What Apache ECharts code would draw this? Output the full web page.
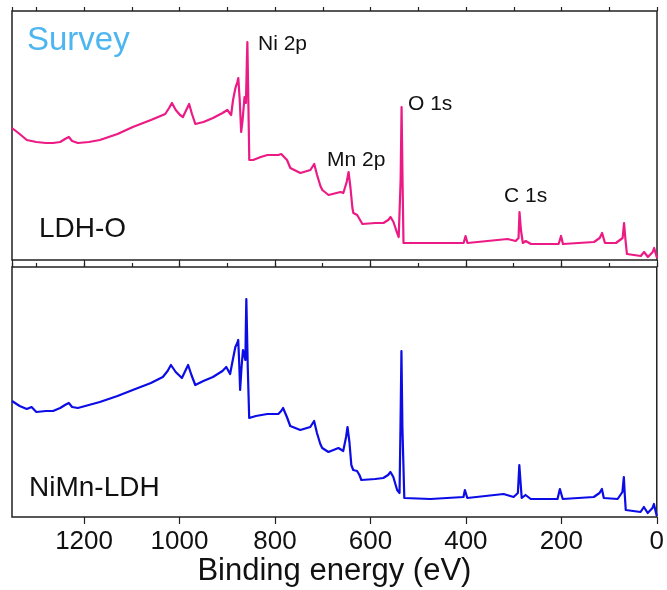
<!DOCTYPE html>
<html>
<head>
<meta charset="utf-8">
<title>XPS survey</title>
<script src="https://cdn.jsdelivr.net/npm/echarts@6.0.0/dist/echarts.min.js"></script>
<style>
  html, body { margin: 0; padding: 0; background: #fff; }
  #chart { width: 667px; height: 590px; }
</style>
</head>
<body>
<div id="chart"></div>
<script>
// binding energy (eV) and intensity (a.u.)
var ldhoEnergy = [1351, 1335, 1320, 1300, 1280, 1265, 1250, 1240, 1232, 1225, 1213, 1190, 1167, 1130, 1098, 1060, 1030, 1022, 1016, 1008, 999, 993, 986, 980, 974, 967, 950, 930, 910, 900, 892, 888, 883, 879, 877, 874, 871, 868, 864, 861, 859, 858, 856, 854, 846, 830, 816, 793, 787, 783, 775, 768, 747, 726, 722, 718, 712, 705, 701, 688, 663, 657, 650, 646, 642, 638, 636, 628, 622, 617, 590, 573, 563, 558, 552, 545, 541, 537, 535, 533, 531, 474, 405, 401, 397, 313, 296, 290, 288, 285, 281, 275, 271, 264, 206, 201, 197, 132, 120, 115, 109, 86, 72, 69, 66, 63, 34, 27, 19, 9, 6, 0];
var ldhoCounts = [132, 126, 120, 118, 117, 117, 118, 121, 123, 119, 117, 118, 120, 126, 133, 140, 146, 152, 157, 150, 145, 143, 150, 156, 146, 136, 138, 142, 147, 150, 145, 160, 172, 178, 182, 160, 128, 140, 163, 157, 200, 218, 160, 100, 100, 103, 105, 105, 106, 108, 100, 92, 87, 90, 92, 96, 85, 74, 70, 65, 68, 67, 78, 88, 72, 52, 47, 45, 40, 36, 37, 37, 40, 43, 38, 28, 23, 80, 153, 80, 17, 17, 17, 24, 17, 21, 19, 22, 48, 30, 17, 19, 20, 16, 16, 24, 16, 18, 22, 27, 17, 17, 22, 37, 20, 6, 4, 8, 3, 8, 12, 2];

var nimnEnergy = [1351, 1335, 1320, 1310, 1300, 1280, 1265, 1250, 1240, 1232, 1225, 1213, 1190, 1167, 1130, 1098, 1060, 1035, 1025, 1018, 1008, 995, 988, 982, 975, 967, 950, 930, 910, 902, 894, 888, 883, 879, 877, 875, 873, 870, 867, 862, 861, 860, 857, 854, 840, 816, 793, 787, 783, 775, 768, 747, 726, 722, 718, 712, 705, 701, 688, 667, 657, 651, 648, 644, 640, 636, 628, 623, 619, 590, 573, 563, 558, 552, 544, 539, 537, 535, 533, 529, 474, 405, 402, 397, 321, 300, 291, 288, 285, 283, 275, 271, 264, 208, 203, 197, 132, 120, 115, 111, 82, 72, 69, 67, 65, 34, 27, 19, 9, 6, 0];
var nimnCounts = [116, 111, 108, 110, 105, 106, 106, 109, 112, 114, 110, 109, 112, 115, 121, 127, 134, 140, 146, 152, 145, 139, 146, 152, 142, 132, 136, 140, 146, 150, 143, 158, 170, 174, 177, 155, 127, 150, 167, 157, 190, 218, 150, 99, 101, 103, 103, 106, 109, 100, 91, 87, 90, 93, 96, 84, 73, 69, 65, 69, 66, 80, 90, 75, 52, 47, 46, 42, 37, 38, 39, 42, 45, 40, 27, 24, 90, 166, 90, 19, 18, 20, 27, 19, 23, 20, 24, 52, 32, 19, 22, 23, 18, 18, 28, 18, 20, 24, 28, 19, 18, 25, 40, 22, 7, 5, 10, 4, 9, 13, 1];

var energyMin = 0;
var energyMax = 1351;

function pairs(xs, ys) {
  return xs.map(function (x, i) { return [x, ys[i]]; });
}

var font = 'Arial, "Liberation Sans", sans-serif';

// one energy axis with the long ticks (every 200) and one with the short ticks (every 100)
function energyAxis(grid, step, tickLen, withLabels) {
  return {
    type: 'value',
    gridIndex: grid,
    min: energyMin,
    max: energyMax,
    interval: step,
    inverse: true,
    axisLine: { show: false },
    splitLine: { show: false },
    axisTick: { show: true, length: tickLen, lineStyle: { color: '#222', width: 1.2 } },
    axisLabel: withLabels ? {
      show: true, showMaxLabel: false, margin: 12,
      color: '#111', fontSize: 26, fontFamily: font,
      formatter: function (v) { return String(v); }
    } : { show: false },
    name: withLabels ? 'Binding energy (eV)' : '',
    nameLocation: 'middle',
    nameGap: 34,
    nameTextStyle: { color: '#111', fontSize: 31, fontFamily: font }
  };
}

var chart = echarts.init(document.getElementById('chart'), null, { renderer: 'canvas' });

chart.setOption({
  animation: false,
  backgroundColor: '#fff',
  grid: [
    { left: 12, top: 11, width: 645, height: 249, show: true, borderColor: '#222', borderWidth: 1.5 },
    { left: 12, top: 267, width: 645, height: 250, show: true, borderColor: '#222', borderWidth: 1.5 }
  ],
  xAxis: [
    energyAxis(0, 200, 7, false),
    energyAxis(0, 100, 4, false),
    energyAxis(1, 200, 7, true),
    energyAxis(1, 100, 4, false)
  ],
  yAxis: [
    { type: 'value', gridIndex: 0, min: 0, max: 249, show: false },
    { type: 'value', gridIndex: 1, min: 0, max: 250, show: false }
  ],
  series: [
    {
      name: 'LDH-O', type: 'line', xAxisIndex: 0, yAxisIndex: 0,
      data: pairs(ldhoEnergy, ldhoCounts),
      showSymbol: false, symbol: 'none',
      lineStyle: { color: '#ec1a84', width: 2.2, join: 'round' }
    },
    {
      name: 'NiMn-LDH', type: 'line', xAxisIndex: 2, yAxisIndex: 1,
      data: pairs(nimnEnergy, nimnCounts),
      showSymbol: false, symbol: 'none',
      lineStyle: { color: '#0c0ce6', width: 2.2, join: 'round' }
    }
  ],
  // peak names and sample labels
  graphic: [
    { type: 'text', left: 27, top: 24, style: { text: 'Survey', fill: '#4db5ef', font: '33px ' + font } },
    { type: 'text', left: 258, top: 34, style: { text: 'Ni 2p', fill: '#111', font: '21px ' + font } },
    { type: 'text', left: 408, top: 94, style: { text: 'O 1s', fill: '#111', font: '21px ' + font } },
    { type: 'text', left: 327, top: 150, style: { text: 'Mn 2p', fill: '#111', font: '21px ' + font } },
    { type: 'text', left: 504, top: 186, style: { text: 'C 1s', fill: '#111', font: '21px ' + font } },
    { type: 'text', left: 39, top: 215, style: { text: 'LDH-O', fill: '#111', font: '28px ' + font } },
    { type: 'text', left: 29, top: 474, style: { text: 'NiMn-LDH', fill: '#111', font: '28px ' + font } }
  ]
});
</script>
</body>
</html>
